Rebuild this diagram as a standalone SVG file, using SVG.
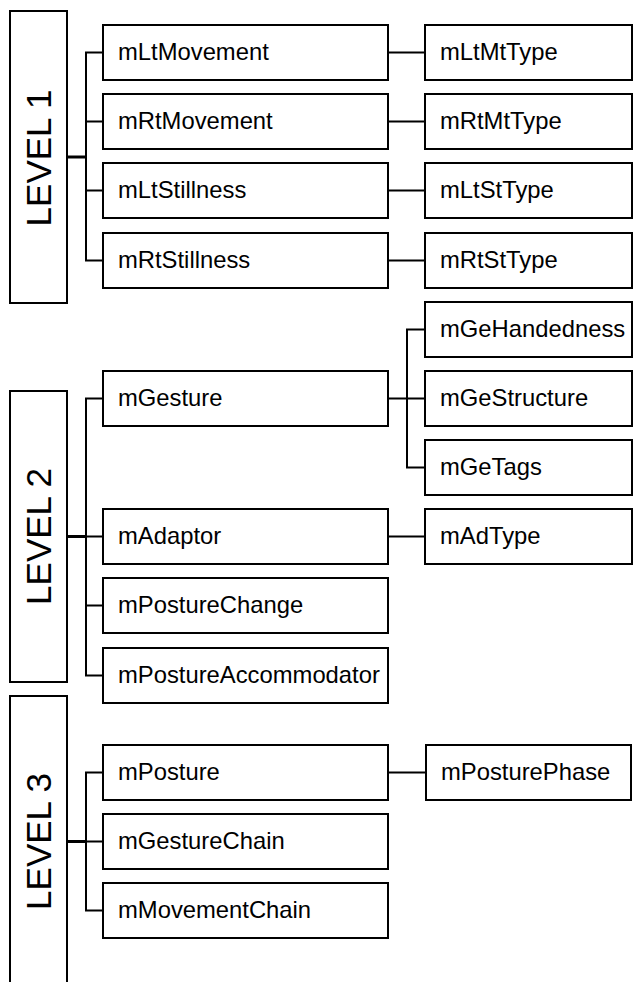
<svg xmlns="http://www.w3.org/2000/svg" width="633" height="982" viewBox="0 0 633 982">
  <style>
    .box { fill: #ffffff; stroke: #000000; stroke-width: 2; }
    .lbl { font-family: "Liberation Sans", Arial, sans-serif; font-size: 23.8px; fill: #000000; }
    .lvl { font-family: "Liberation Sans", Arial, sans-serif; font-size: 35px; fill: #000000; text-anchor: middle; }
    .wire { fill: none; stroke: #000000; stroke-width: 2; }
    .stem { fill: none; stroke: #000000; stroke-width: 3; }
  </style>
  <rect width="633" height="982" fill="#ffffff"/>

  <!-- connectors -->
  <g id="connectors">
    <!-- level 1 -->
    <path class="stem" d="M67 157H86"/>
    <path class="wire" d="M103 52.5H86V260.5H103M86 121.5H103M86 190.5H103"/>
    <path class="wire" d="M388 52.5H425M388 121.5H425M388 190.5H425M388 260.5H425"/>
    <!-- level 2 -->
    <path class="stem" d="M67 536.5H86"/>
    <path class="wire" d="M103 398.5H86V675.5H103M86 536.5H103M86 605.5H103"/>
    <path class="wire" d="M388 398.5H407M425 329.5H407V467.5H425M407 398.5H425"/>
    <path class="wire" d="M388 536.5H425"/>
    <!-- level 3 -->
    <path class="stem" d="M67 841.5H86"/>
    <path class="wire" d="M103 772.5H86V910.5H103M86 841.5H103"/>
    <path class="wire" d="M388 772.5H426"/>
  </g>

  <!-- level headers -->
  <g id="level1">
    <rect class="box" x="10" y="11" width="57" height="292"/>
    <text class="lvl" transform="translate(51 158) rotate(-90)">LEVEL 1</text>
  </g>
  <g id="level2">
    <rect class="box" x="10" y="391" width="57" height="291"/>
    <text class="lvl" transform="translate(51 536.5) rotate(-90)">LEVEL 2</text>
  </g>
  <g id="level3">
    <rect class="box" x="10" y="696" width="57" height="320"/>
    <text class="lvl" transform="translate(51 841.5) rotate(-90)">LEVEL 3</text>
  </g>

  <!-- level 1 nodes -->
  <g id="mLtMovement"><rect class="box" x="103" y="25" width="285" height="55"/><text class="lbl" x="118" y="59.5">mLtMovement</text></g>
  <g id="mRtMovement"><rect class="box" x="103" y="94" width="285" height="55"/><text class="lbl" x="118" y="128.5">mRtMovement</text></g>
  <g id="mLtStillness"><rect class="box" x="103" y="163" width="285" height="55"/><text class="lbl" x="118" y="197.5">mLtStillness</text></g>
  <g id="mRtStillness"><rect class="box" x="103" y="233" width="285" height="55"/><text class="lbl" x="118" y="267.5">mRtStillness</text></g>
  <g id="mLtMtType"><rect class="box" x="425" y="25" width="207" height="55"/><text class="lbl" x="440" y="59.5">mLtMtType</text></g>
  <g id="mRtMtType"><rect class="box" x="425" y="94" width="207" height="55"/><text class="lbl" x="440" y="128.5">mRtMtType</text></g>
  <g id="mLtStType"><rect class="box" x="425" y="163" width="207" height="55"/><text class="lbl" x="440" y="197.5">mLtStType</text></g>
  <g id="mRtStType"><rect class="box" x="425" y="233" width="207" height="55"/><text class="lbl" x="440" y="267.5">mRtStType</text></g>

  <!-- level 2 nodes -->
  <g id="mGesture"><rect class="box" x="103" y="371" width="285" height="55"/><text class="lbl" x="118" y="405.5">mGesture</text></g>
  <g id="mAdaptor"><rect class="box" x="103" y="509" width="285" height="55"/><text class="lbl" x="118" y="543.5">mAdaptor</text></g>
  <g id="mPostureChange"><rect class="box" x="103" y="578" width="285" height="55"/><text class="lbl" x="118" y="612.5">mPostureChange</text></g>
  <g id="mPostureAccommodator"><rect class="box" x="103" y="648" width="285" height="55"/><text class="lbl" x="118" y="682.5">mPostureAccommodator</text></g>
  <g id="mGeHandedness"><rect class="box" x="425" y="302" width="207" height="55"/><text class="lbl" x="440" y="336.5">mGeHandedness</text></g>
  <g id="mGeStructure"><rect class="box" x="425" y="371" width="207" height="55"/><text class="lbl" x="440" y="405.5">mGeStructure</text></g>
  <g id="mGeTags"><rect class="box" x="425" y="440" width="207" height="55"/><text class="lbl" x="440" y="474.5">mGeTags</text></g>
  <g id="mAdType"><rect class="box" x="425" y="509" width="207" height="55"/><text class="lbl" x="440" y="543.5">mAdType</text></g>

  <!-- level 3 nodes -->
  <g id="mPosture"><rect class="box" x="103" y="745" width="285" height="55"/><text class="lbl" x="118" y="779.5">mPosture</text></g>
  <g id="mGestureChain"><rect class="box" x="103" y="814" width="285" height="55"/><text class="lbl" x="118" y="848.5">mGestureChain</text></g>
  <g id="mMovementChain"><rect class="box" x="103" y="883" width="285" height="55"/><text class="lbl" x="118" y="917.5">mMovementChain</text></g>
  <g id="mPosturePhase"><rect class="box" x="426" y="745" width="205" height="55"/><text class="lbl" x="441" y="779.5">mPosturePhase</text></g>
</svg>
